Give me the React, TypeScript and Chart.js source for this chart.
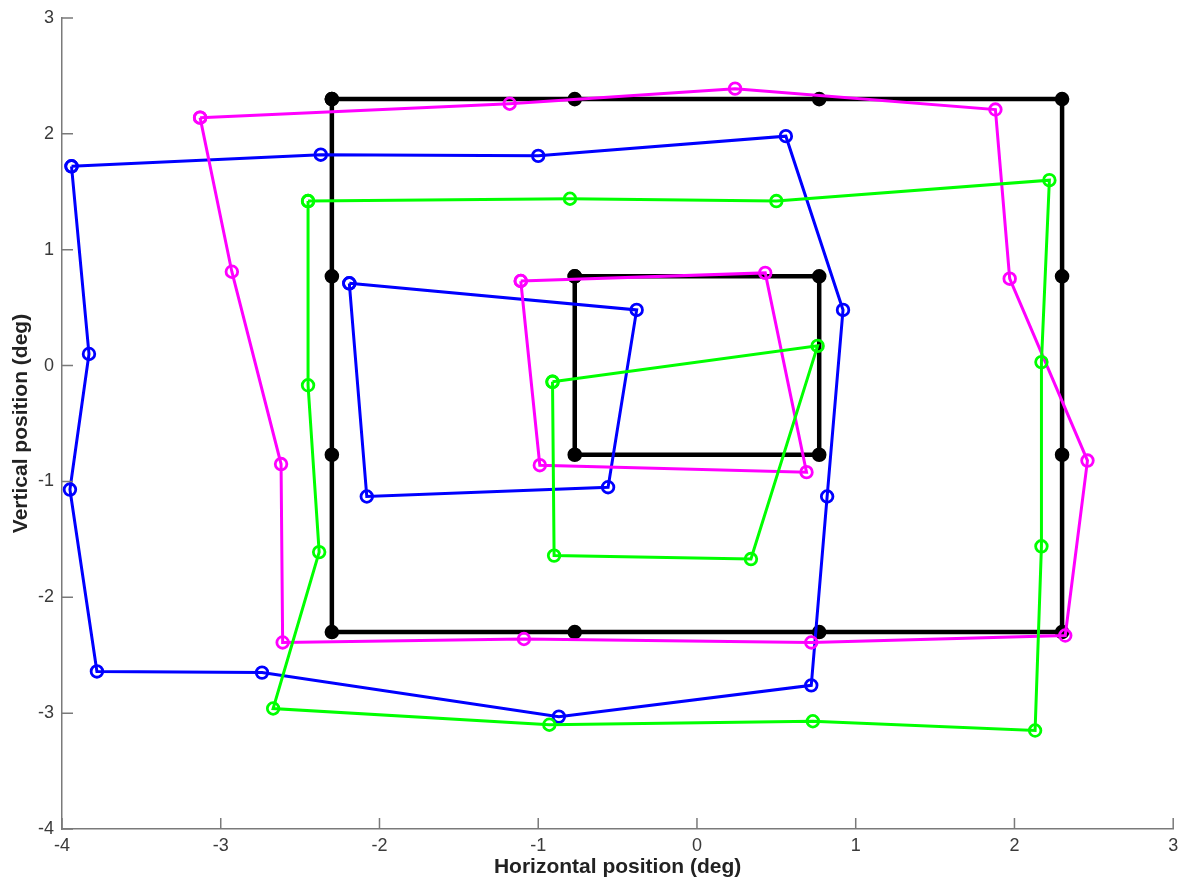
import React, { useEffect, useRef } from "react";
import { Chart, registerables } from "chart.js";

Chart.register(...registerables);

// ---- Data (degrees) ----
const blackOuterX = [-2.3, -0.77, 0.77, 2.3, 2.3, 2.3, 2.3, 0.77, -0.77, -2.3, -2.3, -2.3];
const blackOuterY = [2.3, 2.3, 2.3, 2.3, 0.77, -0.77, -2.3, -2.3, -2.3, -2.3, -0.77, 0.77];
const blackInnerX = [-0.77, 0.77, 0.77, -0.77];
const blackInnerY = [0.77, 0.77, -0.77, -0.77];

const magentaOuterX = [-3.13, -1.18, 0.24, 1.88, 1.97, 2.46, 2.32, 0.72, -1.09, -2.61, -2.62, -2.93];
const magentaOuterY = [2.14, 2.26, 2.39, 2.21, 0.75, -0.82, -2.33, -2.39, -2.36, -2.39, -0.85, 0.81];
const magentaInnerX = [-1.11, 0.43, 0.69, -0.99];
const magentaInnerY = [0.73, 0.8, -0.92, -0.86];

const blueOuterX = [-3.94, -2.37, -1.0, 0.56, 0.92, 0.82, 0.72, -0.87, -2.74, -3.78, -3.95, -3.83];
const blueOuterY = [1.72, 1.82, 1.81, 1.98, 0.48, -1.13, -2.76, -3.03, -2.65, -2.64, -1.07, 0.1];
const blueInnerX = [-2.19, -0.38, -0.56, -2.08];
const blueInnerY = [0.71, 0.48, -1.05, -1.13];

const greenOuterX = [-2.45, -0.8, 0.5, 2.22, 2.17, 2.17, 2.13, 0.73, -0.93, -2.67, -2.38, -2.45];
const greenOuterY = [1.42, 1.44, 1.42, 1.6, 0.03, -1.56, -3.15, -3.07, -3.1, -2.96, -1.61, -0.17];
const greenInnerX = [-0.91, 0.76, 0.34, -0.9];
const greenInnerY = [-0.14, 0.17, -1.67, -1.64];

const xTicks = [-4, -3, -2, -1, 0, 1, 2, 3];
const yTicks = [-4, -3, -2, -1, 0, 1, 2, 3];

const xTitle = "Horizontal position (deg)";
const yTitle = "Vertical position (deg)";

function loop(xs: number[], ys: number[]) {
  const pts = xs.map((x, i) => ({ x, y: ys[i] }));
  pts.push({ ...pts[0] });
  return pts;
}

function ds(label: string, data: any[], color: string, order: number, black = false) {
  return {
    label,
    data,
    showLine: true,
    tension: 0,
    borderColor: color,
    borderWidth: black ? 4.5 : 3,
    pointRadius: 5.8,
    pointHoverRadius: 5.8,
    pointBorderWidth: black ? 3 : 2.8,
    pointBorderColor: color,
    pointBackgroundColor: black ? color : "rgba(0,0,0,0)",
    order,
  };
}

const inwardTicks = {
  id: "inwardTicks",
  afterDatasetsDraw(chart: any) {
    const ctx = chart.ctx;
    const xs = chart.scales.x;
    const ys = chart.scales.y;
    const area = chart.chartArea;
    ctx.save();
    ctx.strokeStyle = "#7a7a7a";
    ctx.lineWidth = 1.5;
    ctx.beginPath();
    xs.ticks.forEach((t: any) => {
      const px = xs.getPixelForValue(t.value);
      ctx.moveTo(px, area.bottom);
      ctx.lineTo(px, area.bottom - 11);
    });
    ys.ticks.forEach((t: any) => {
      const py = ys.getPixelForValue(t.value);
      ctx.moveTo(area.left, py);
      ctx.lineTo(area.left + 11, py);
    });
    ctx.stroke();
    ctx.restore();
  },
};

export default function App() {
  const ref = useRef<HTMLCanvasElement>(null);
  useEffect(() => {
    if (!ref.current) return;
    const chart = new Chart(ref.current, {
      type: "scatter",
      data: {
        datasets: [
          ds("black outer", loop(blackOuterX, blackOuterY), "#000000", 4, true),
          ds("black inner", loop(blackInnerX, blackInnerY), "#000000", 4, true),
          ds("blue outer", loop(blueOuterX, blueOuterY), "#0000ff", 3),
          ds("blue inner", loop(blueInnerX, blueInnerY), "#0000ff", 3),
          ds("magenta outer", loop(magentaOuterX, magentaOuterY), "#ff00ff", 2),
          ds("magenta inner", loop(magentaInnerX, magentaInnerY), "#ff00ff", 2),
          ds("green outer", loop(greenOuterX, greenOuterY), "#00ff00", 1),
          ds("green inner", loop(greenInnerX, greenInnerY), "#00ff00", 1),
        ],
      },
      options: {
        animation: false,
        responsive: false,
        layout: { padding: { left: 0, top: 18, right: 7, bottom: 0 } },
        plugins: { legend: { display: false }, tooltip: { enabled: false } },
        scales: {
          x: {
            type: "linear",
            min: -4,
            max: 3,
            afterBuildTicks: (s: any) => {
              s.ticks = xTicks.map((v) => ({ value: v }));
            },
            afterFit: (s: any) => {
              s.height = 51;
              s.paddingLeft = 0;
              s.paddingRight = 0;
            },
            grid: { display: true, drawOnChartArea: false, drawTicks: false },
            border: { display: true, color: "#7a7a7a", width: 1.5 },
            ticks: {
              padding: 6,
              color: "#3a3a3a",
              font: { family: "Liberation Sans", size: 18 },
              maxRotation: 0,
            },
            title: {
              display: true,
              text: xTitle,
              color: "#222222",
              font: { family: "Liberation Sans", size: 21, weight: "bold" },
              padding: { top: 0, bottom: 0 },
            },
          },
          y: {
            type: "linear",
            min: -4,
            max: 3,
            afterBuildTicks: (s: any) => {
              s.ticks = yTicks.map((v) => ({ value: v }));
            },
            afterFit: (s: any) => {
              s.width = 62;
              s.paddingTop = 0;
              s.paddingBottom = 0;
            },
            grid: { display: true, drawOnChartArea: false, drawTicks: false },
            border: { display: true, color: "#7a7a7a", width: 1.5 },
            ticks: {
              padding: 8,
              color: "#3a3a3a",
              font: { family: "Liberation Sans", size: 18 },
            },
            title: {
              display: true,
              text: yTitle,
              color: "#222222",
              font: { family: "Liberation Sans", size: 21, weight: "bold" },
              padding: { top: 9, bottom: 0 },
            },
          },
        },
      },
      plugins: [inwardTicks],
    } as any);
    return () => chart.destroy();
  }, []);
  return (
    <div style={{ position: "absolute", left: 0, top: 0, width: 1182, height: 880, background: "#fff" }}>
      <canvas ref={ref} width={1182} height={880} style={{ display: "block" }} />
    </div>
  );
}
